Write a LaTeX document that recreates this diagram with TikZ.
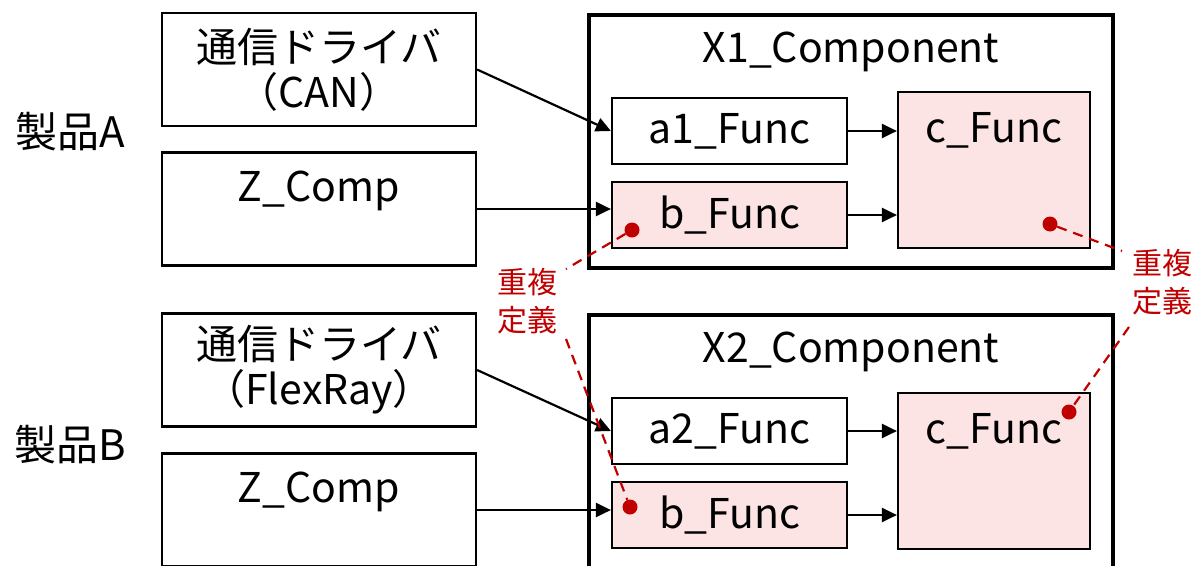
\documentclass[tikz,border=0pt]{standalone}
\usepackage{fontspec}
\setmainfont{Noto Sans CJK JP}
\usetikzlibrary{arrows.meta,positioning}
\definecolor{dupred}{HTML}{C00000}
\definecolor{duppink}{HTML}{FDE4E4}

\begin{document}
\begin{tikzpicture}[x=1pt, y=-1pt,
      every node/.style={font=\fontsize{41}{45}\selectfont},
      drv/.style={draw, line width=2.2pt, minimum width=314pt, minimum height=113pt, align=center, inner sep=2pt},
      comp/.style={draw, line width=4.2pt, minimum width=524pt, minimum height=253pt,
                   text height=29pt, text depth=187pt},
      fn/.style={draw, line width=2.2pt, minimum width=235pt, minimum height=66pt},
      dupfn/.style={fn, fill=duppink},
      toptxt/.style={text height=29pt, text depth=#1},
      prod/.style={font=\fontsize{42}{45}\selectfont},
      note/.style={text=dupred, align=center, font=\fontsize{30}{38}\selectfont},
      dupdot/.style={circle, fill=dupred, minimum size=15pt, inner sep=0pt},
      arr/.style={-{Triangle[length=15pt, width=14pt]}, line width=2.2pt},
      dup/.style={dupred, line width=2.2pt, dash pattern=on 10pt off 7pt}]
    \useasboundingbox (0,0) rectangle (1196,565);
    % product A
    \node[prod] (pA) at (70,132) {製品A};
    \node[drv] (canA) at (319,69.5) {通信ドライバ\\（CAN）};
    \node[drv, toptxt=44pt] (zA) at (319,209) {Z\_Comp};
    \node[comp, anchor=north west] (x1) at (587,13) {X1\_Component};
    \node[fn] (a1) at (729.5,131) {a1\_Func};
    \node[dupfn] (b1) at (729.5,215) {b\_Func};
    \node[dupfn, toptxt=84pt, minimum width=192pt, minimum height=156pt] (c1) at (994,170) {c\_Func};
    \node[dupdot] (d1b) at (632,230) {};
    \node[dupdot] (d1c) at (1050,224) {};
    \draw[arr] (canA.east) -- (a1.west);
    \draw[arr] (zA.east) -- (zA.east -| b1.west);
    \draw[arr] (a1.east) -- (a1.east -| c1.west);
    \draw[arr] (b1.east) -- (b1.east -| c1.west);
    % product B
    \node[prod] (pB) at (70,445) {製品B};
    \node[drv] (canB) at (319,370) {通信ドライバ\\（FlexRay）};
    \node[drv, toptxt=44pt] (zB) at (319,510) {Z\_Comp};
    \node[comp, anchor=north west] (x2) at (587,313) {X2\_Component};
    \node[fn] (a2) at (729.5,431) {a2\_Func};
    \node[dupfn] (b2) at (729.5,515) {b\_Func};
    \node[dupfn, toptxt=84pt, minimum width=192pt, minimum height=156pt] (c2) at (994,471) {c\_Func};
    \node[dupdot] (d2b) at (630,507) {};
    \node[dupdot] (d2c) at (1069,412) {};
    \draw[arr] (canB.east) -- (a2.west);
    \draw[arr] (zB.east) -- (zB.east -| b2.west);
    \draw[arr] (a2.east) -- (a2.east -| c2.west);
    \draw[arr] (b2.east) -- (b2.east -| c2.west);
    % duplicate definitions
    \node[note] (nL) at (527,301) {重複\\定義};
    \node[note] (nR) at (1162,282) {重複\\定義};
    \coordinate (eL1) at (566,269);
    \coordinate (eL2) at (566,339);
    \coordinate (eR1) at (1122,251);
    \coordinate (eR2) at (1129,327);
    \draw[dup] (d1b) -- (eL1);
    \draw[dup] (eL2) -- (d2b);
    \draw[dup] (d1c) -- (eR1);
    \draw[dup] (eR2) -- (d2c);
  \end{tikzpicture}
\end{document}
